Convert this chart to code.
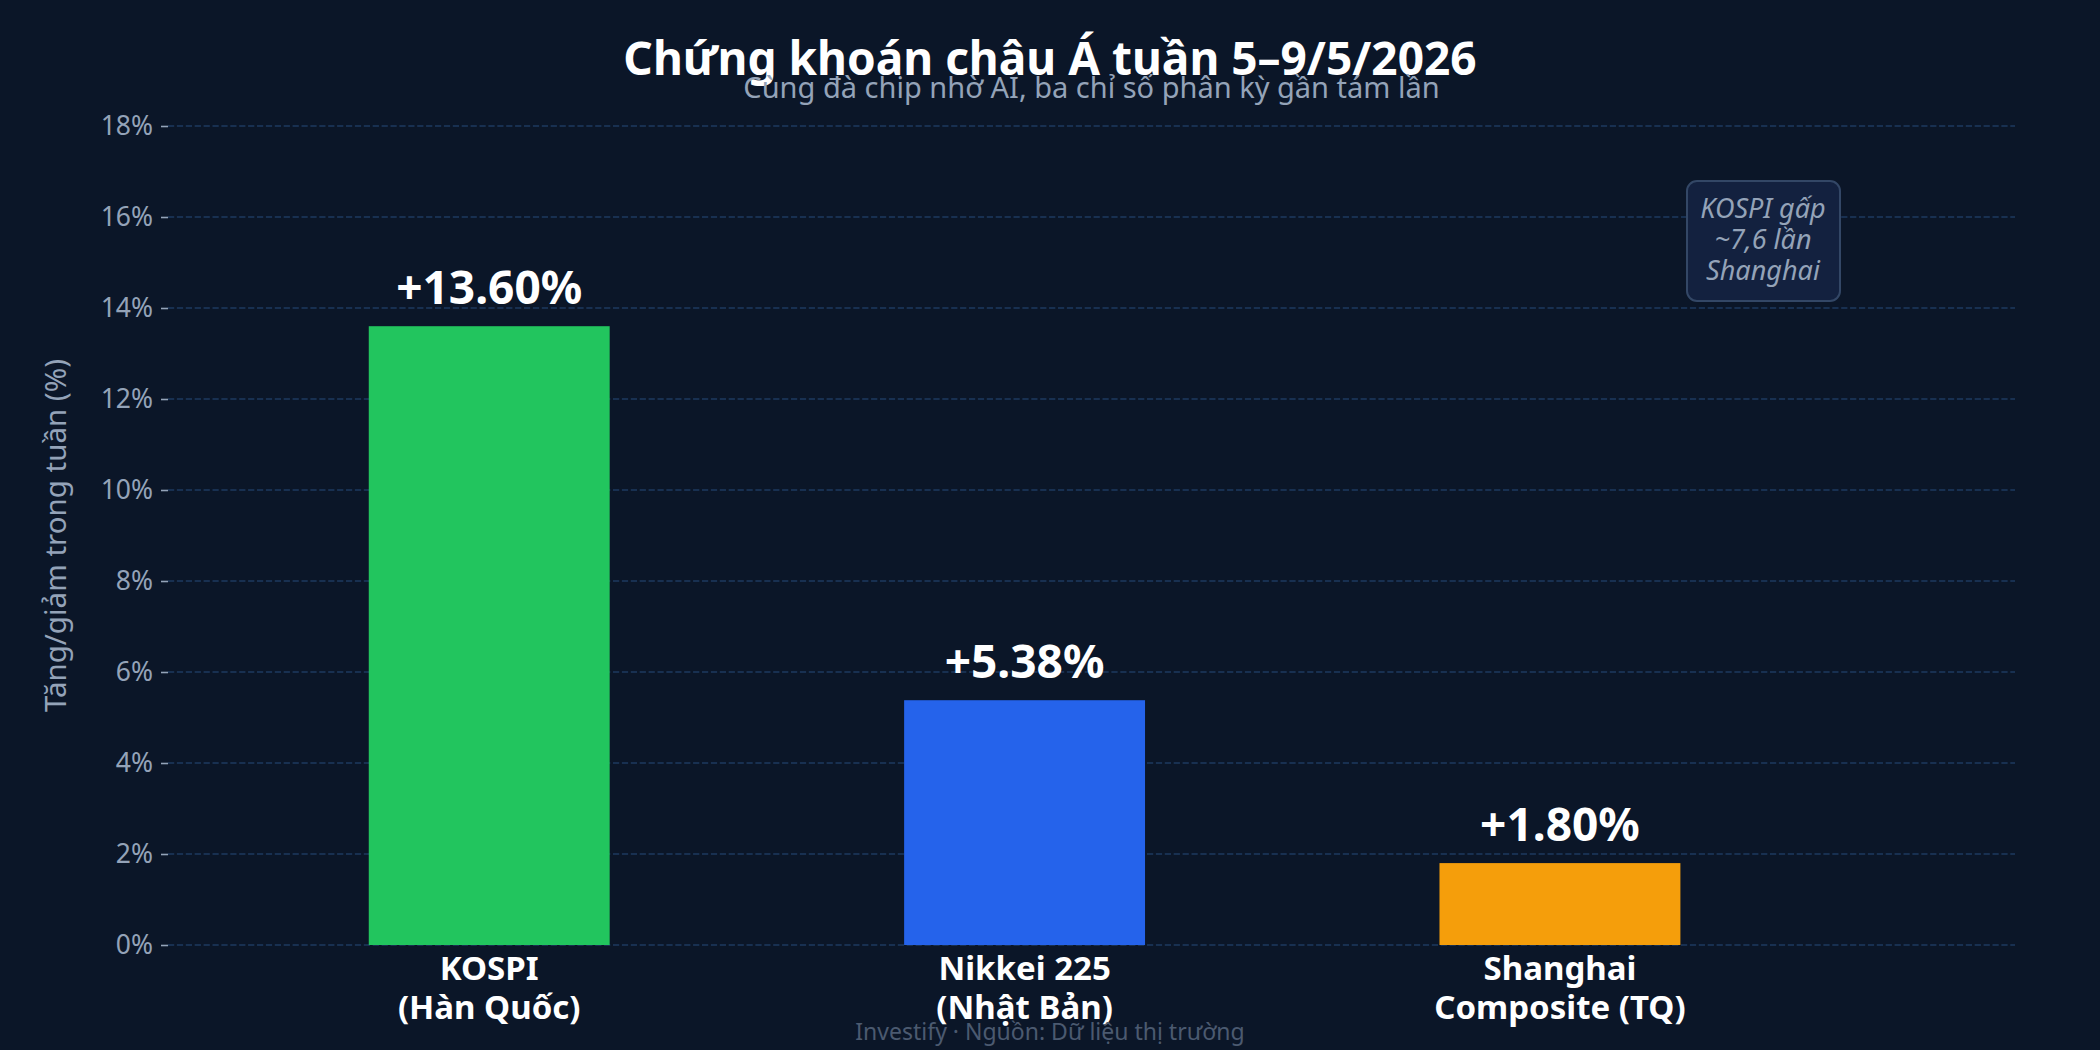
<!DOCTYPE html>
<html>
<head>
<meta charset="utf-8">
<script src="https://cdn.jsdelivr.net/npm/d3@7"></script>
<style>
  html, body { margin: 0; padding: 0; background: #0b1628; }
  svg { display: block; font-family: "Noto Sans", sans-serif; }
</style>
</head>
<body>
<div id="chart"></div>
<script>
// Data
var categories = ["KOSPI\n(Hàn Quốc)", "Nikkei 225\n(Nhật Bản)", "Shanghai\nComposite (TQ)"];
var values = [13.60, 5.38, 1.80];
var barColors = ["#22c55e", "#2563eb", "#f59e0b"];
var yTicks = [0, 2, 4, 6, 8, 10, 12, 14, 16, 18];
var noteLines = ["KOSPI gấp", "~7,6 lần", "Shanghai"];

// Dimensions
var w = 2100;
var h = 1050;
var margin = { left: 168, right: 85, top: 126, bottom: 105 };

var svg = d3
  .select("#chart")
  .append("svg")
  .attr("width", w)
  .attr("height", h);

svg.append("rect").attr("width", w).attr("height", h).attr("fill", "#0b1628");

// Scales
var xScale = d3
  .scaleLinear()
  .domain([-0.6, 2.85])
  .range([margin.left, w - margin.right]);

var yScale = d3
  .scaleLinear()
  .domain([0, 18])
  .range([h - margin.bottom, margin.top]);

var barWidth = xScale(0.45) - xScale(0);

// Gridlines
svg
  .append("g")
  .selectAll("line")
  .data(yTicks)
  .enter()
  .append("line")
  .attr("x1", margin.left)
  .attr("x2", w - margin.right)
  .attr("y1", (d) => yScale(d))
  .attr("y2", (d) => yScale(d))
  .attr("stroke", "#1e3a5f")
  .attr("stroke-width", 1.6)
  .attr("stroke-dasharray", "6.2,2.7");

// Y axis
var yAxis = d3
  .axisLeft(yScale)
  .tickValues(yTicks)
  .tickFormat((d) => d + "%")
  .tickSize(7)
  .tickPadding(8);

var yg = svg
  .append("g")
  .attr("transform", "translate(" + margin.left + ",0)")
  .call(yAxis);
yg.select(".domain").remove();
yg.selectAll(".tick line").attr("stroke", "#94a3b8").attr("stroke-width", 1.6);
yg.selectAll(".tick text")
  .attr("fill", "#94a3b8")
  .style("font-size", "26.5px")
  .style("font-family", "Noto Sans");

// Bars
svg
  .append("g")
  .selectAll("rect")
  .data(values)
  .enter()
  .append("rect")
  .attr("x", (d, i) => xScale(i) - barWidth / 2)
  .attr("y", (d) => yScale(d))
  .attr("width", barWidth)
  .attr("height", (d) => yScale(0) - yScale(d))
  .attr("fill", (d, i) => barColors[i]);

// Value labels
svg
  .append("g")
  .selectAll("text")
  .data(values)
  .enter()
  .append("text")
  .attr("x", (d, i) => xScale(i))
  .attr("y", (d) => yScale(d) - 22)
  .attr("text-anchor", "middle")
  .attr("fill", "#ffffff")
  .style("font-size", "46px")
  .style("font-weight", "bold")
  .text((d) => "+" + d.toFixed(2) + "%");

// X category labels
var xl = svg
  .append("g")
  .selectAll("text")
  .data(categories)
  .enter()
  .append("text")
  .attr("x", (d, i) => xScale(i))
  .attr("y", yScale(0) + 35)
  .attr("text-anchor", "middle")
  .attr("fill", "#ffffff")
  .style("font-size", "33px")
  .style("font-weight", "bold");

xl.selectAll("tspan")
  .data((d) => d.split("\n"))
  .enter()
  .append("tspan")
  .attr("x", function () {
    return this.parentNode.getAttribute("x");
  })
  .attr("dy", (d, i) => (i === 0 ? 0 : 39))
  .text((d) => d);

// Y axis title
svg
  .append("text")
  .attr("transform", "translate(66," + yScale(9) + ") rotate(-90)")
  .attr("text-anchor", "middle")
  .attr("fill", "#94a3b8")
  .style("font-size", "29.5px")
  .text("Tăng/giảm trong tuần (%)");

// Title (centred on the page) and subtitle (centred on the plot area)
svg
  .append("text")
  .attr("x", w / 2)
  .attr("y", 75)
  .attr("text-anchor", "middle")
  .attr("fill", "#ffffff")
  .style("font-size", "46px")
  .style("font-weight", "bold")
  .text("Chứng khoán châu Á tuần 5–9/5/2026");

svg
  .append("text")
  .attr("x", (margin.left + w - margin.right) / 2)
  .attr("y", 98)
  .attr("text-anchor", "middle")
  .attr("fill", "#94a3b8")
  .style("font-size", "29px")
  .text("Cùng đà chip nhờ AI, ba chỉ số phân kỳ gần tám lần");

// Annotation box
var note = svg.append("g");
note
  .append("rect")
  .attr("x", 1687)
  .attr("y", 181)
  .attr("width", 153)
  .attr("height", 120)
  .attr("rx", 10)
  .attr("fill", "#13213f")
  .attr("stroke", "#334766")
  .attr("stroke-width", 2);

note
  .selectAll("text")
  .data(noteLines)
  .enter()
  .append("text")
  .attr("x", 1763)
  .attr("y", (d, i) => 218 + i * 31)
  .attr("text-anchor", "middle")
  .attr("fill", "#94a3b8")
  .style("font-size", "27px")
  .style("font-style", "italic")
  .text((d) => d);

// Footer
svg
  .append("text")
  .attr("x", w / 2)
  .attr("y", 1040)
  .attr("text-anchor", "middle")
  .attr("fill", "#4b5a70")
  .style("font-size", "23px")
  .text("Investify · Nguồn: Dữ liệu thị trường");
</script>
</body>
</html>
